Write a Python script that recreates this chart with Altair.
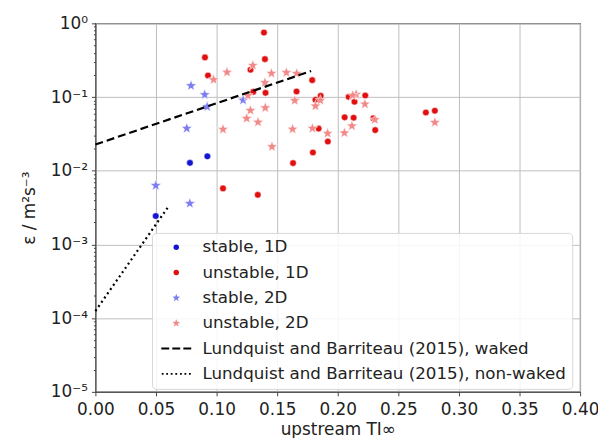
import math
import altair as alt
import pandas as pd

# ---- data ----
stable_1d_x = [0.0780, 0.0924, 0.0498]
stable_1d_y = [0.0128, 0.0157, 0.00243]

unstable_1d_x = [0.1391, 0.0904, 0.0929, 0.1280, 0.1399, 0.1303, 0.1404, 0.1660, 0.1631,
                 0.1053, 0.1340, 0.1789, 0.1859, 0.1816, 0.2090, 0.2227, 0.2138, 0.2057,
                 0.2131, 0.1842, 0.1918, 0.1795, 0.2309, 0.2293, 0.2727, 0.2801]
unstable_1d_y = [0.749, 0.345, 0.196, 0.235, 0.327, 0.1175, 0.114, 0.119, 0.0127,
                 0.00576, 0.00471, 0.1695, 0.1038, 0.0917, 0.1006, 0.1048, 0.0862, 0.0530,
                 0.0524, 0.0373, 0.0249, 0.0177, 0.0356, 0.0516, 0.0616, 0.0652]

stable_2d_x = [0.0789, 0.0902, 0.0922, 0.1219, 0.0754, 0.0498, 0.0779]
stable_2d_y = [0.1425, 0.1077, 0.0738, 0.0908, 0.0376, 0.00630, 0.00360]

unstable_2d_x = [0.0975, 0.1086, 0.1299, 0.1453, 0.1576, 0.1661, 0.1399, 0.1258, 0.1279,
                 0.1402, 0.1248, 0.1342, 0.1053, 0.1627, 0.1457, 0.1645, 0.1857, 0.1816,
                 0.2152, 0.2123, 0.2224, 0.1791, 0.1916, 0.2055, 0.2117, 0.2306, 0.2801]
unstable_2d_y = [0.172, 0.217, 0.269, 0.210, 0.215, 0.209, 0.157, 0.1048, 0.0658,
                 0.0715, 0.0512, 0.0456, 0.0365, 0.0367, 0.0212, 0.0897, 0.0902, 0.0756,
                 0.1088, 0.1054, 0.0802, 0.0376, 0.0322, 0.0326, 0.0405, 0.0493, 0.0452]

waked_x = [0.0, 0.178]
waked_y = [0.0227, 0.2255]
nonwaked_x = [0.0, 0.0602]
nonwaked_y = [0.000125, 0.00326]

series_labels = ["stable, 1D", "unstable, 1D", "stable, 2D", "unstable, 2D",
                 "Lundquist and Barriteau (2015), waked",
                 "Lundquist and Barriteau (2015), non-waked"]
x_ticks = [0.0, 0.05, 0.10, 0.15, 0.20, 0.25, 0.30, 0.35, 0.40]
y_major = [1e-5, 1e-4, 1e-3, 1e-2, 1e-1, 1.0]
y_major_labels = ["10⁻⁵", "10⁻⁴", "10⁻³", "10⁻²", "10⁻¹", "10⁰"]

# ---- build tables ----
rows = []
for lab, xs, ys in [(series_labels[0], stable_1d_x, stable_1d_y),
                    (series_labels[1], unstable_1d_x, unstable_1d_y),
                    (series_labels[2], stable_2d_x, stable_2d_y),
                    (series_labels[3], unstable_2d_x, unstable_2d_y)]:
    for a, b in zip(xs, ys):
        rows.append({"x": a, "y": b, "series": lab})
pts = pd.DataFrame(rows)
waked = pd.DataFrame({"x": waked_x, "y": waked_y})
nonwaked = pd.DataFrame({"x": nonwaked_x, "y": nonwaked_y})

y_ticks = []
for v in y_major[:-1]:
    for m in range(1, 10):
        y_ticks.append(round(v * m, 12))
y_ticks.append(1.0)

expr = "''"
for v, l in zip(y_major, y_major_labels):
    expr = f"abs(datum.value - {v}) < {v}*1e-6 ? '{l}' : ({expr})"
is_major = " || ".join(f"abs(datum.value - {v}) < {v}*1e-6" for v in y_major)

# ---- marker shapes (matplotlib-like star, legend line glyphs) ----
def star_path(r_out=1.5, r_in_ratio=0.42):
    pts_ = []
    for i in range(10):
        r = r_out if i % 2 == 0 else r_out * r_in_ratio
        a = math.pi / 2 + i * math.pi / 5
        pts_.append((r * math.cos(a), -r * math.sin(a)))
    return "M" + "L".join(f"{px:.3f},{py:.3f}" for px, py in pts_) + "Z"

STAR = star_path()
dash_path = "M-5.5,-0.35H-2.6V0.35H-5.5Z M-1.45,-0.35H1.45V0.35H-1.45Z M2.6,-0.35H5.5V0.35H2.6Z"
dot_path = " ".join(f"M{c - 0.33:.2f},-0.33H{c + 0.33:.2f}V0.33H{c - 0.33:.2f}Z"
                    for c in [-5.0, -3.35, -1.7, 0.0, 1.7, 3.35, 5.0])
colors = ["#1414d2", "#e01010", "#7d7df2", "#f28a8a", "#000000", "#000000"]
shapes = ["circle", "circle", STAR, STAR, dash_path, dot_path]

xenc = alt.X("x:Q", scale=alt.Scale(domain=[0, 0.4], nice=False, zero=False),
             axis=alt.Axis(values=x_ticks, format=".2f", title="upstream TI∞",
                           grid=True, tickSize=4, labelPadding=6, orient="bottom",
                           titlePadding=4, labelFlush=False))
yenc = alt.Y("y:Q", scale=alt.Scale(type="log", domain=[1e-5, 1], nice=False),
             axis=alt.Axis(values=y_ticks, labelExpr=expr, title="ε / m²s⁻³",
                           grid=True, orient="left", labelFlush=False,
                           gridColor={"condition": {"test": is_major, "value": "#bdbdbd"},
                                      "value": "rgba(0,0,0,0)"},
                           tickSize={"condition": {"test": is_major, "value": 4}, "value": 2},
                           labelPadding=4, titlePadding=12))

legend = alt.Legend(title=None, orient="none", legendX=57, legendY=211,
                    padding=6, rowPadding=7.5, symbolSize=30, symbolOffset=10,
                    labelOffset=18, labelFontSize=16.8, labelFont="DejaVu Sans",
                    labelLimit=1000,
                    labelColor="#222", fillColor="rgba(255,255,255,0.85)",
                    strokeColor="#d8d8d8", cornerRadius=4, symbolStrokeWidth=0)

points = alt.Chart(pts).mark_point(filled=True, opacity=1, stroke="white",
                                   strokeWidth=0.5).encode(
    x=xenc, y=yenc,
    color=alt.Color("series:N", scale=alt.Scale(domain=series_labels, range=colors),
                    legend=legend),
    shape=alt.Shape("series:N", scale=alt.Scale(domain=series_labels, range=shapes),
                    legend=legend),
    size=alt.condition("indexof(datum.series, '2D') >= 0", alt.value(58), alt.value(44)),
)

line_w = alt.Chart(waked).mark_line(color="black", strokeDash=[8, 4], strokeWidth=2.2).encode(
    x=xenc, y=yenc)
line_nw = alt.Chart(nonwaked).mark_line(color="black", strokeDash=[2, 3.2], strokeWidth=2.2).encode(
    x=xenc, y=yenc)

chart = alt.layer(points, line_w, line_nw).properties(
    width=488, height=371,
    padding={"left": 88, "top": 14, "right": 18, "bottom": 45},
    autosize=alt.AutoSizeParams(type="none"),
).configure_view(stroke="#444", strokeWidth=1.2).configure_axis(
    labelFont="DejaVu Sans", labelFontSize=17, titleFont="DejaVu Sans",
    titleFontSize=17, titleFontWeight="normal", labelColor="#222", titleColor="#222",
    domainColor="#444", tickColor="#444", gridColor="#bdbdbd", gridWidth=1,
)

chart.save("out.html", embed_options={"renderer": "svg", "actions": False})
